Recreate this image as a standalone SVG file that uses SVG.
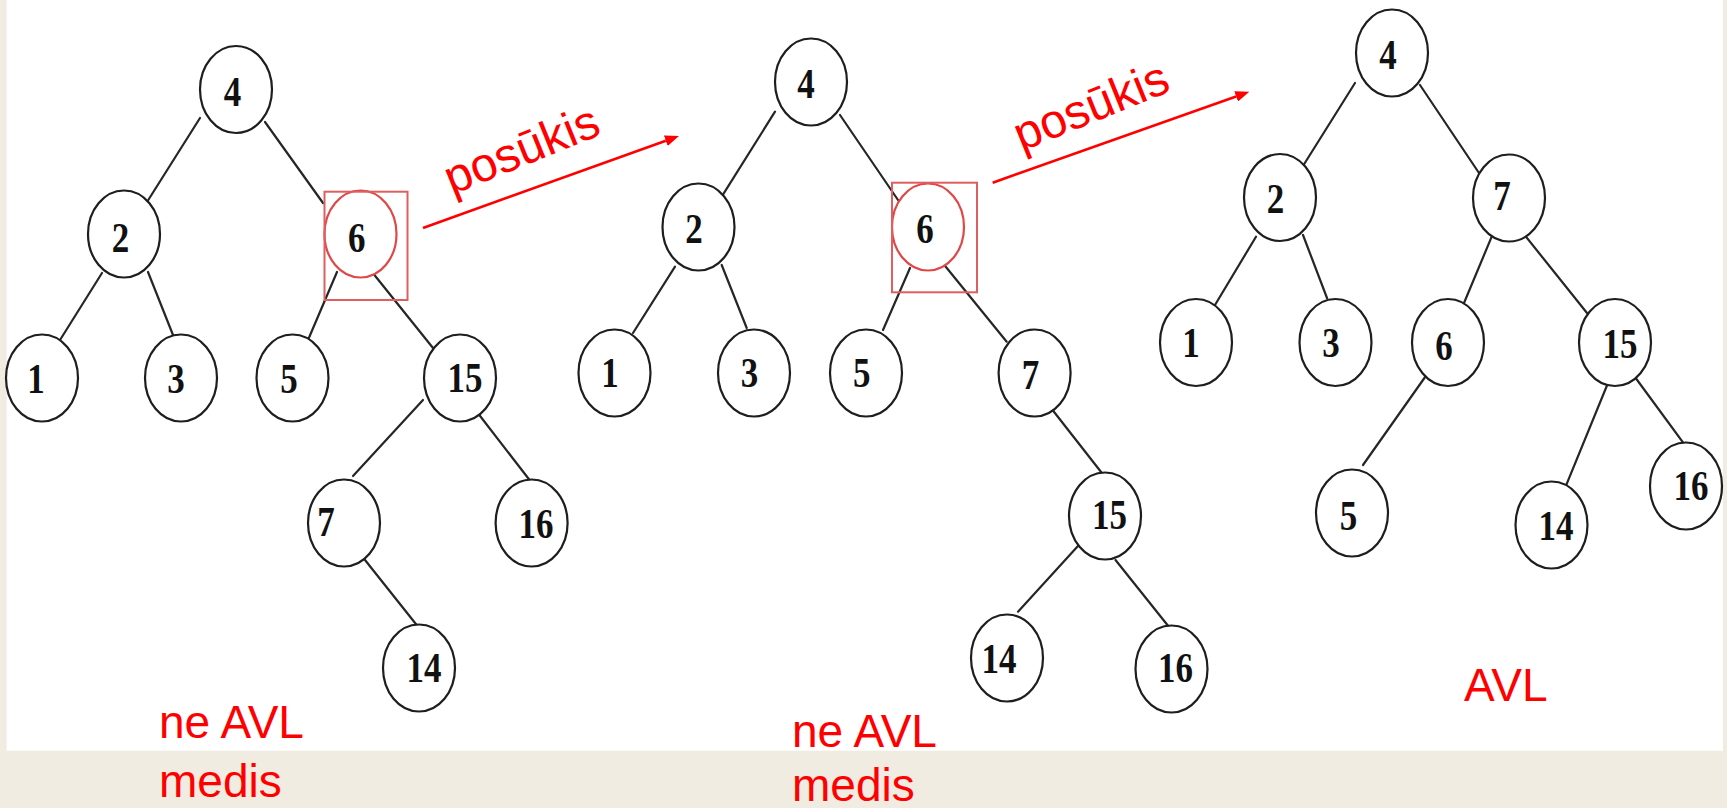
<svg xmlns="http://www.w3.org/2000/svg" width="1727" height="808" viewBox="0 0 1727 808">
<style>
.bg{fill:#f1ece1}
.paper{fill:#ffffff}
.node ellipse{fill:#ffffff;stroke:#1e1e1e;stroke-width:2.2}
.node.hl ellipse{stroke:#e04848}
.node text{font-family:"Liberation Serif","Times New Roman",serif;font-weight:bold;font-size:35px;fill:#111;text-anchor:middle}
.edges line{stroke:#262626;stroke-width:2.2;stroke-linecap:round}
.hlbox{fill:none;stroke:#de5f5f;stroke-width:2}
.arrow{stroke:#ff0000;stroke-width:2.6;fill:none}
.lbl{font-family:"Liberation Sans",Arial,sans-serif;font-size:46px;fill:#ff0000}
.rot{font-size:48px}
</style>
<defs>
<marker id="ah" viewBox="0 -5.5 14 11" refX="0" refY="0" markerWidth="14" markerHeight="11" markerUnits="userSpaceOnUse" orient="auto">
<path d="M0,-5.5 L14,0 L0,5.5 z" fill="#ff0000"/>
</marker>
</defs>
<rect class="bg" x="0" y="0" width="1727" height="808"/>
<rect class="paper" x="6.7" y="0" width="1716.3" height="750.7"/>

<g id="connectors" class="edges">
<line x1="200" y1="118" x2="147" y2="202"/>
<line x1="265" y1="122" x2="323" y2="203"/>
<line x1="102" y1="273" x2="60" y2="340"/>
<line x1="148" y1="272" x2="173" y2="335"/>
<line x1="337" y1="272" x2="308" y2="340"/>
<line x1="368" y1="267" x2="433" y2="348"/>
<line x1="423" y1="400" x2="353" y2="476"/>
<line x1="477" y1="412" x2="539.6" y2="493"/>
<line x1="365" y1="560" x2="427" y2="638"/>
<line x1="775" y1="111.7" x2="721.7" y2="196.7"/>
<line x1="840" y1="115" x2="898" y2="200"/>
<line x1="675" y1="266.7" x2="633" y2="333"/>
<line x1="721.7" y1="265" x2="746.7" y2="328"/>
<line x1="910" y1="268" x2="883" y2="330"/>
<line x1="941.7" y1="261.7" x2="1006.7" y2="341.7"/>
<line x1="1050" y1="406.7" x2="1112.8" y2="487"/>
<line x1="1088" y1="535" x2="1018" y2="611.7"/>
<line x1="1115.5" y1="560" x2="1179.4" y2="640"/>
<line x1="1355" y1="83" x2="1301.7" y2="168"/>
<line x1="1420" y1="85" x2="1479" y2="173"/>
<line x1="1256" y1="236.7" x2="1215" y2="305"/>
<line x1="1303" y1="235" x2="1327" y2="298"/>
<line x1="1491.7" y1="236.7" x2="1464" y2="303"/>
<line x1="1523" y1="233" x2="1587" y2="313"/>
<line x1="1435" y1="363" x2="1363" y2="465"/>
<line x1="1608" y1="383" x2="1561.5" y2="496.7"/>
<line x1="1632" y1="373" x2="1694.7" y2="458.3"/>
</g>

<g id="t1-n4" class="node"><ellipse cx="236" cy="89.5" rx="36" ry="43.5"/><text transform="translate(232.5,106.4) scale(1,1.2)">4</text></g>
<g id="t1-n2" class="node"><ellipse cx="124" cy="234" rx="36" ry="43.5"/><text transform="translate(120.5,252.4) scale(1,1.2)">2</text></g>
<g id="t1-n6" class="node hl"><ellipse cx="360.5" cy="234" rx="36" ry="43.5"/><text transform="translate(356.7,252.4) scale(1,1.2)">6</text></g>
<g id="t1-n1" class="node"><ellipse cx="42" cy="378" rx="36" ry="43.5"/><text transform="translate(36,393.4) scale(1,1.2)">1</text></g>
<g id="t1-n3" class="node"><ellipse cx="181" cy="378" rx="36" ry="43.5"/><text transform="translate(176,393.4) scale(1,1.2)">3</text></g>
<g id="t1-n5" class="node"><ellipse cx="292.5" cy="378" rx="36" ry="43.5"/><text transform="translate(289,393.4) scale(1,1.2)">5</text></g>
<g id="t1-n15" class="node"><ellipse cx="460" cy="378" rx="36" ry="43.5"/><text transform="translate(465,392.4) scale(1,1.2)">15</text></g>
<g id="t1-n7" class="node"><ellipse cx="344" cy="523" rx="36" ry="43.5"/><text transform="translate(326,536.4) scale(1,1.2)">7</text></g>
<g id="t1-n16" class="node"><ellipse cx="531.6" cy="523" rx="36" ry="43.5"/><text transform="translate(536,538.4) scale(1,1.2)">16</text></g>
<g id="t1-n14" class="node"><ellipse cx="419" cy="668" rx="36" ry="43.5"/><text transform="translate(424,682.4) scale(1,1.2)">14</text></g>
<rect id="t1-box" class="hlbox" x="324.5" y="191.7" width="83" height="108.3"/>

<g id="t2-n4" class="node"><ellipse cx="811" cy="82" rx="36" ry="43.5"/><text transform="translate(806,98.4) scale(1,1.2)">4</text></g>
<g id="t2-n2" class="node"><ellipse cx="698.5" cy="227" rx="36" ry="43.5"/><text transform="translate(694,243.4) scale(1,1.2)">2</text></g>
<g id="t2-n6" class="node hl"><ellipse cx="928" cy="227" rx="36" ry="43.5"/><text transform="translate(925,243.4) scale(1,1.2)">6</text></g>
<g id="t2-n1" class="node"><ellipse cx="614.5" cy="373" rx="36" ry="43.5"/><text transform="translate(610,386.9) scale(1,1.2)">1</text></g>
<g id="t2-n3" class="node"><ellipse cx="754" cy="373" rx="36" ry="43.5"/><text transform="translate(749.5,387.4) scale(1,1.2)">3</text></g>
<g id="t2-n5" class="node"><ellipse cx="866" cy="373" rx="36" ry="43.5"/><text transform="translate(861.7,387.4) scale(1,1.2)">5</text></g>
<g id="t2-n7" class="node"><ellipse cx="1034.6" cy="373" rx="36" ry="43.5"/><text transform="translate(1030.5,389.4) scale(1,1.2)">7</text></g>
<g id="t2-n15" class="node"><ellipse cx="1105" cy="516" rx="36" ry="43.5"/><text transform="translate(1109.6,529.4) scale(1,1.2)">15</text></g>
<g id="t2-n14" class="node"><ellipse cx="1007" cy="658" rx="36" ry="43.5"/><text transform="translate(999,673.4) scale(1,1.2)">14</text></g>
<g id="t2-n16" class="node"><ellipse cx="1171.5" cy="669" rx="36" ry="43.5"/><text transform="translate(1175.5,682.4) scale(1,1.2)">16</text></g>
<rect id="t2-box" class="hlbox" x="892" y="182.7" width="85" height="109.6"/>

<g id="t3-n4" class="node"><ellipse cx="1392" cy="53" rx="36" ry="43.5"/><text transform="translate(1388,69.4) scale(1,1.2)">4</text></g>
<g id="t3-n2" class="node"><ellipse cx="1280" cy="197.5" rx="36" ry="43.5"/><text transform="translate(1275.5,213.4) scale(1,1.2)">2</text></g>
<g id="t3-n7" class="node"><ellipse cx="1509" cy="198" rx="36" ry="43.5"/><text transform="translate(1502,210.4) scale(1,1.2)">7</text></g>
<g id="t3-n1" class="node"><ellipse cx="1196" cy="342.5" rx="36" ry="43.5"/><text transform="translate(1191,357.4) scale(1,1.2)">1</text></g>
<g id="t3-n3" class="node"><ellipse cx="1335.5" cy="342.5" rx="36" ry="43.5"/><text transform="translate(1331,357.4) scale(1,1.2)">3</text></g>
<g id="t3-n6" class="node"><ellipse cx="1448" cy="342.5" rx="36" ry="43.5"/><text transform="translate(1444,360.4) scale(1,1.2)">6</text></g>
<g id="t3-n15" class="node"><ellipse cx="1615" cy="342.5" rx="36" ry="43.5"/><text transform="translate(1620,358.4) scale(1,1.2)">15</text></g>
<g id="t3-n5" class="node"><ellipse cx="1352" cy="513" rx="36" ry="43.5"/><text transform="translate(1348.5,530.4) scale(1,1.2)">5</text></g>
<g id="t3-n14" class="node"><ellipse cx="1551.5" cy="525" rx="36" ry="43.5"/><text transform="translate(1556,540.4) scale(1,1.2)">14</text></g>
<g id="t3-n16" class="node"><ellipse cx="1686" cy="486" rx="36" ry="43.5"/><text transform="translate(1691,500.4) scale(1,1.2)">16</text></g>

<g id="rot1">
<line class="arrow" x1="423" y1="228" x2="665.8" y2="140.7" marker-end="url(#ah)"/>
<text class="lbl rot" text-anchor="middle" transform="translate(527.5,164.6) rotate(-22)">posūkis</text>
</g>
<g id="rot2">
<line class="arrow" x1="992.7" y1="182.7" x2="1236.1" y2="96.4" marker-end="url(#ah)"/>
<text class="lbl rot" text-anchor="middle" transform="translate(1097,121) rotate(-22)">posūkis</text>
</g>

<text id="cap1" class="lbl"><tspan x="159" y="738">ne AVL</tspan><tspan x="159" y="796.7">medis</tspan></text>
<text id="cap2" class="lbl"><tspan x="792" y="746.7">ne AVL</tspan><tspan x="792" y="801">medis</tspan></text>
<text id="cap3" class="lbl" x="1464" y="701">AVL</text>
</svg>
